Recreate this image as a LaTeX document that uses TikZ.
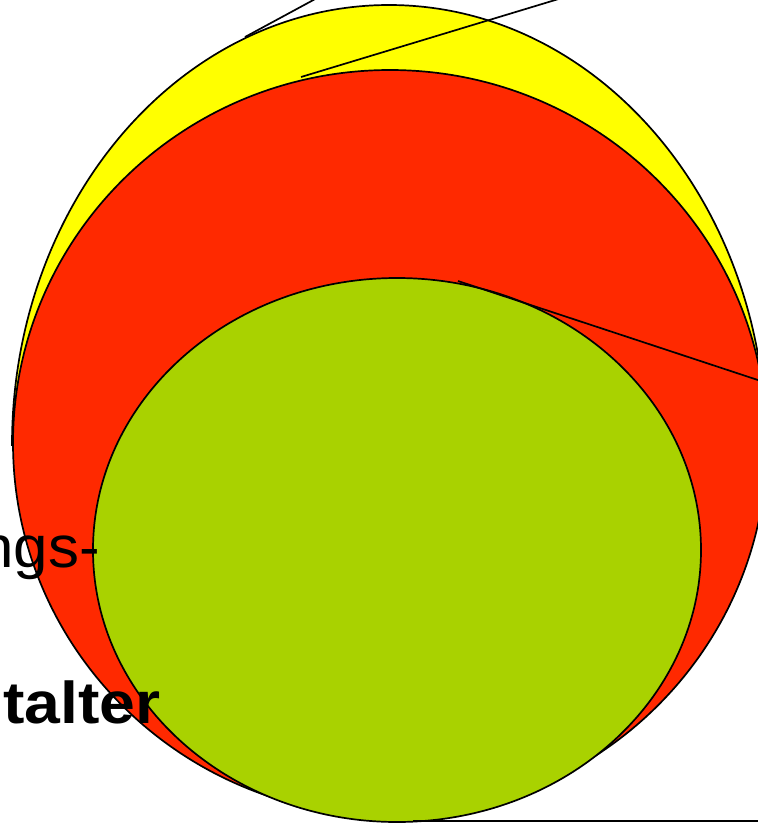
\documentclass[tikz,border=0pt]{standalone}
\usepackage{fontspec}
\setmainfont{Liberation Sans}
\usepackage{tikz}
\usetikzlibrary{positioning, calc}
\definecolor{cyellow}{HTML}{FFFF00}
\definecolor{cred}{HTML}{FF2900}
\definecolor{cgreen}{HTML}{A9D200}
\tikzset{
  ring/.style={draw=black, line width=1.7pt},
  lead/.style={draw=black, line width=1.7pt},
  bigtext/.style={font=\fontsize{59}{62}\selectfont, text=black, inner sep=0pt}
}

\begin{document}
\begin{tikzpicture}[x=1pt, y=-1pt]
\useasboundingbox (0,0) rectangle (758,823);
% layers, outside to inside (only the upper half of the yellow one shows)
\filldraw[ring, fill=cyellow] (12,445) arc [start angle=180, end angle=360, x radius=377, y radius=440] -- cycle;
\filldraw[ring, fill=cred] (390,443) ellipse [x radius=377, y radius=373];
\filldraw[ring, fill=cgreen] (397,550) ellipse [x radius=304, y radius=272];
% leader lines
\coordinate (l1a) at (245,37);
\coordinate (l1b) at (330,-9);
\coordinate (l2a) at (301,77);
\coordinate (l2b) at (585,-9);
\coordinate (l3a) at (458,281);
\coordinate (l3b) at (770,384);
\coordinate (l4a) at (413,821);
\coordinate (l4b) at (770,821);
\draw[lead] (l1a) -- (l1b);
\draw[lead] (l2a) -- (l2b);
\draw[lead] (l3a) -- (l3b);
\draw[lead] (l4a) -- (l4b);
% labels
\node[bigtext, anchor=base east] (ngs) at (100,567) {\scalebox{1.05}[1]{ngs-}};
\node[bigtext, anchor=base west, font=\fontsize{59}{62}\selectfont\bfseries] (talter) at (3,723) {\scalebox{1.09}[1]{talter}};
\end{tikzpicture}
\end{document}
